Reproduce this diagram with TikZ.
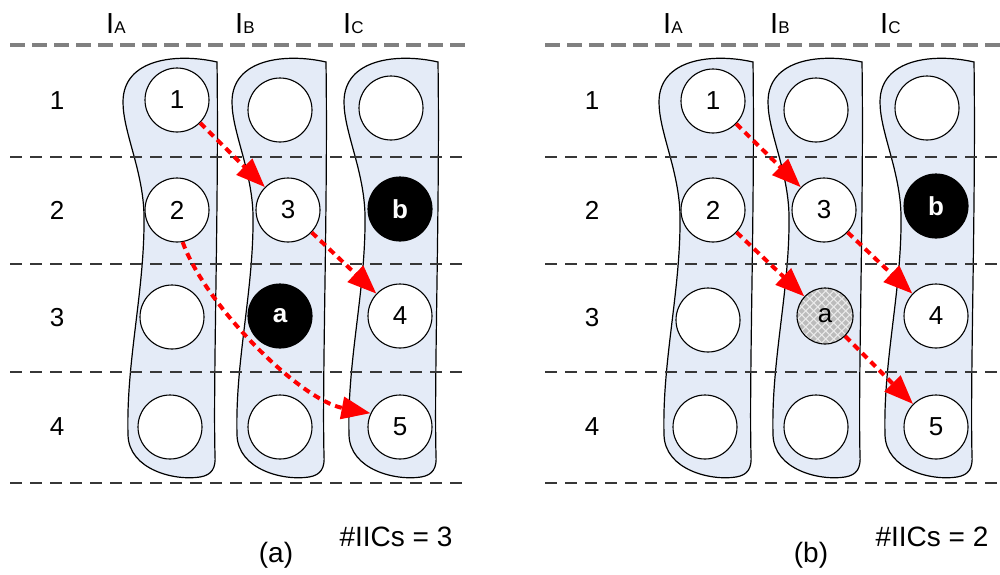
\documentclass[tikz,border=0pt]{standalone}
\usepackage{fontspec}
\setmainfont{Liberation Sans}
\usetikzlibrary{arrows.meta,calc}

\definecolor{bandfill}{RGB}{228,235,247}
\definecolor{topdash}{RGB}{128,128,128}
\definecolor{rowdash}{RGB}{55,55,55}
\definecolor{hatchgray}{RGB}{188,188,188}
\definecolor{hatchline}{RGB}{235,235,235}

\tikzset{
  band/.style={draw=black, line width=1.2pt, fill=bandfill},
  bandpic/.pic={
    \path[band] (217,62) .. controls (178,53) and (123,58) .. (123,102)
      .. controls (123,132) and (143,170) .. (144,215)
      .. controls (145,290) and (126,360) .. (128,435)
      .. controls (129,470) and (175,481) .. (200,477)
      .. controls (212,475) and (216,468) .. (215,455)
      .. controls (213,380) and (219,200) .. (217,62) -- cycle;
  },
  cell/.style={circle, draw=black, line width=1.1pt, fill=white,
    minimum size=64pt, inner sep=0pt, font=\fontsize{26}{26}\selectfont},
  darkcell/.style={cell, fill=black, text=white,
    font=\fontsize{26}{26}\selectfont\bfseries},
  hatchcell/.style={cell, minimum size=56pt, fill=hatchgray,
    path picture={
      \begin{scope}[shift={(path picture bounding box.center)}]
        \foreach \k in {-64,-56,...,64} {
          \draw[hatchline, line width=1pt] (\k pt-40pt,-40pt) -- (\k pt+40pt,40pt);
          \draw[hatchline, line width=1pt] (\k pt-40pt,40pt) -- (\k pt+40pt,-40pt);
        }
      \end{scope}
    }},
  rowlabel/.style={font=\fontsize{26}{26}\selectfont},
  caption/.style={font=\fontsize{28}{28}\selectfont},
  hdr/.style={anchor=base west, inner sep=0pt, font=\fontsize{29}{29}\selectfont},
  topline/.style={draw=topdash, line width=3.5pt, dash pattern=on 15pt off 7pt},
  rowline/.style={draw=rowdash, line width=2pt, dash pattern=on 12pt off 8pt},
  flow/.style={draw=red, line width=4pt, dash pattern=on 7pt off 5pt,
    -{Triangle[length=29pt,width=22pt]}},
}

\newcommand{\subidx}[1]{{\fontsize{17}{17}\selectfont #1}}

\begin{document}
\begin{tikzpicture}[x=1pt, y=-1pt]
  \useasboundingbox (0,0) rectangle (1000,574);

  % vertical bands, left and right panels
  \foreach \dx in {0,109,221,536,645,757} {
    \pic at (\dx,0) {bandpic};
  }

  % horizontal separators
  \draw[topline] (10,45) -- (468,45);
  \draw[topline] (545,45) -- (1000,45);
  \foreach \yy in {157,264,372,483} {
    \draw[rowline] (10,\yy) -- (468,\yy);
    \draw[rowline] (545,\yy) -- (1000,\yy);
  }

  % column headers
  \node[hdr] (hLA) at (106,33) {I\subidx{A}};
  \node[hdr] (hLB) at (235,33) {I\subidx{B}};
  \node[hdr] (hLC) at (343,33) {I\subidx{C}};
  \node[hdr] (hRA) at (663,33) {I\subidx{A}};
  \node[hdr] (hRB) at (770,33) {I\subidx{B}};
  \node[hdr] (hRC) at (880,33) {I\subidx{C}};

  % row labels
  \node[rowlabel] (rL1) at (57,101) {1};
  \node[rowlabel] (rL2) at (57,210) {2};
  \node[rowlabel] (rL3) at (57,318) {3};
  \node[rowlabel] (rL4) at (57,427) {4};
  \node[rowlabel] (rR1) at (592,101) {1};
  \node[rowlabel] (rR2) at (592,210) {2};
  \node[rowlabel] (rR3) at (592,318) {3};
  \node[rowlabel] (rR4) at (592,427) {4};

  % left panel cells
  \node[cell] (LA1) at (177,100) {1};
  \node[cell] (LA2) at (177,210) {2};
  \node[cell] (LA3) at (172,317) {};
  \node[cell] (LA4) at (170,427) {};
  \node[cell] (LB1) at (280,110) {};
  \node[cell] (LB2) at (288,210) {3};
  \node[darkcell] (LB3) at (280,316) {a};
  \node[cell] (LB4) at (280,427) {};
  \node[cell] (LC1) at (391,108) {};
  \node[darkcell] (LC2) at (400,209) {b};
  \node[cell] (LC3) at (400,316) {4};
  \node[cell] (LC4) at (400,427) {5};

  % right panel cells
  \node[cell] (RA1) at (713,101) {1};
  \node[cell] (RA2) at (713,210) {2};
  \node[cell] (RA3) at (708,320) {};
  \node[cell] (RA4) at (705,427) {};
  \node[cell] (RB1) at (816,110) {};
  \node[cell] (RB2) at (824,210) {3};
  \node[hatchcell] (RB3) at (825,316) {a};
  \node[cell] (RB4) at (816,427) {};
  \node[cell] (RC1) at (927,108) {};
  \node[darkcell] (RC2) at (936,206) {b};
  \node[cell] (RC3) at (936,316) {4};
  \node[cell] (RC4) at (936,427) {5};

  % dependency arrows
  \draw[flow] (LA1) -- (LB2);
  \draw[flow] (LB2) -- (LC3);
  \draw[flow] (LA2.-80) .. controls (205,305) and (300,400) .. (LC4.155);

  \draw[flow] (RA1) -- (RB2);
  \draw[flow] (RA2) -- (RB3);
  \draw[flow] (RB2) -- (RC3);
  \draw[flow] (RB3) -- (RC4);

  % captions
  \node[caption] (capA) at (276,555) {(a)};
  \node[caption] (cntA) at (396,537) {\#IICs = 3};
  \node[caption] (capB) at (811,555) {(b)};
  \node[caption] (cntB) at (932,537) {\#IICs = 2};
\end{tikzpicture}
\end{document}
